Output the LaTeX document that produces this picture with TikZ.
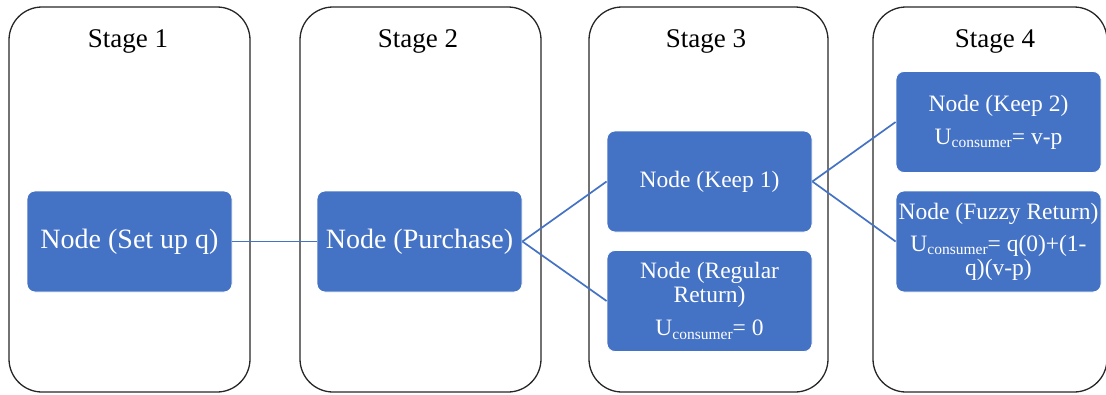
\documentclass[tikz,border=0pt]{standalone}
\usepackage{fontspec}
\setmainfont{Liberation Serif}
\definecolor{nodeblue}{HTML}{4472C4}
\definecolor{stageline}{HTML}{262626}
\newcommand{\ucons}[1]{U\raisebox{-3.5pt}{\fontsize{15.5}{16}\selectfont consumer}=\ #1}
\begin{document}
\begin{tikzpicture}[x=1pt,y=-1pt,
  stagebox/.style={draw=stageline, line width=1.3pt, rounded corners=33pt,
    minimum height=385pt, inner sep=0pt},
  stagetitle/.style={anchor=base, font=\fontsize{27}{32}\selectfont, text=black, inner sep=0pt},
  bluebox/.style={fill=nodeblue, draw=white, line width=0.8pt, rounded corners=8pt,
    text=white, align=center, inner sep=0pt, minimum width=205pt, minimum height=101pt},
  bigtext/.style={font=\fontsize{28}{30}\selectfont},
  smalltext/.style={font=\fontsize{23.5}{24}\selectfont},
  link/.style={draw=nodeblue, line width=1.7pt}]
\useasboundingbox (0,0) rectangle (1106,394);
% stage frames
\node[stagebox, minimum width=241pt] (s1) at (129.5,199.5) {};
\node[stagebox, minimum width=241pt] (s2) at (420.5,199.5) {};
\node[stagebox, minimum width=239pt] (s3) at (708.5,199.5) {};
\node[stagebox, minimum width=234pt] (s4) at (990,199.5) {};
% titles
\node[stagetitle] (t1) at (128,47) {Stage 1};
\node[stagetitle] (t2) at (418,47) {Stage 2};
\node[stagetitle] (t3) at (706,47) {Stage 3};
\node[stagetitle] (t4) at (995,47) {Stage 4};
% nodes
\node[bluebox, bigtext] (setup) at (129.5,241.5) {Node (Set up q)};
\node[bluebox, bigtext] (purchase) at (419.5,241.5) {Node (Purchase)};
\node[bluebox, smalltext] (keep1) at (709.5,181.5) {Node (Keep 1)};
\node[bluebox, smalltext] (regular) at (709.5,301) {Node (Regular\\Return)\\[9pt]\ucons{0}};
\node[bluebox, smalltext] (keep2) at (998.5,122) {Node (Keep 2)\\[9pt]\ucons{v-p}};
\node[bluebox, smalltext] (fuzzy) at (998.5,241.5) {Node (Fuzzy Return)\\[8pt]\ucons{q(0)+(1-}\\[0pt]q)(v-p)};
% connectors
\draw[link] (setup.east) -- (purchase.west);
\draw[link] (purchase.east) -- (keep1.west);
\draw[link] (purchase.east) -- (regular.west);
\draw[link] (keep1.east) -- (keep2.west);
\draw[link] (keep1.east) -- (fuzzy.west);
\end{tikzpicture}
\end{document}
